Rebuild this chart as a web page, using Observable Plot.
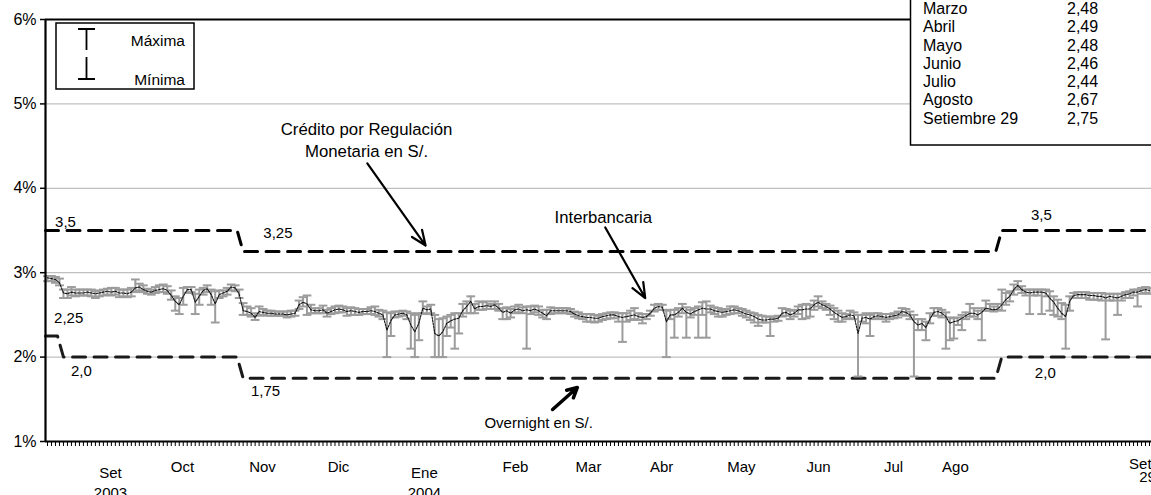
<!DOCTYPE html>
<html><head><meta charset="utf-8">
<script src="https://cdn.jsdelivr.net/npm/d3@7"></script>
<script src="https://cdn.jsdelivr.net/npm/@observablehq/plot@0.6"></script>
<style>body{margin:0;background:#fff;} svg{display:block;}</style>
</head><body><div id="chart"></div>
<script>
// Interbank rate, daily (business days, Sep 2003 - Sep 29 2004): mean, max, min (%)
const interMean = [
2.94,2.93,2.92,2.88,2.76,2.75,2.77,2.76,2.76,2.76,
2.77,2.76,2.75,2.76,2.77,2.78,2.77,2.78,2.76,2.76,
2.75,2.77,2.82,2.83,2.80,2.78,2.77,2.79,2.80,2.81,
2.79,2.73,2.66,2.62,2.72,2.80,2.80,2.65,2.72,2.79,
2.81,2.74,2.63,2.74,2.76,2.78,2.83,2.82,2.75,
2.55,2.54,2.52,2.47,2.54,2.53,2.52,2.52,2.51,2.51,
2.51,2.50,2.51,2.52,2.62,2.65,2.63,2.56,2.55,2.55,
2.56,2.52,2.54,2.56,2.57,2.56,2.54,2.55,2.54,2.53,
2.54,2.54,2.55,2.54,2.52,2.50,2.32,2.43,2.50,2.51,
2.52,2.50,2.38,2.30,2.40,2.58,2.56,
2.57,2.28,2.25,2.30,2.40,2.43,2.45,2.46,2.55,2.60,
2.66,2.57,2.60,2.60,2.61,2.60,2.62,2.58,2.53,2.55,
2.52,2.56,2.57,2.55,2.56,2.55,2.57,2.55,2.52,2.49,
2.55,2.55,2.55,2.55,2.55,2.54,2.51,2.49,2.48,2.47,
2.47,2.46,2.46,2.48,2.49,2.50,2.50,
2.48,2.47,2.48,2.49,2.50,2.48,2.47,2.48,2.52,2.58,
2.60,2.59,2.42,2.50,2.50,2.53,2.58,2.53,2.51,2.54,
2.56,2.58,2.57,2.57,2.55,2.54,2.53,2.54,2.55,2.56,
2.55,2.53,2.51,2.50,2.48,2.45,2.44,2.44,2.45,2.45,
2.46,2.52,2.53,2.50,2.52,2.56,
2.56,2.57,2.57,2.62,2.65,2.62,2.60,2.57,2.53,2.50,
2.47,2.48,2.50,2.49,2.28,2.46,2.47,2.45,2.48,2.49,
2.48,2.47,2.48,2.49,2.50,2.54,2.53,2.50,2.42,2.38,
2.40,2.35,2.45,2.53,2.54,2.52,2.48,2.40,2.42,2.43,
2.46,2.49,2.52,2.52,2.50,2.53,2.58,2.57,2.56,2.57,
2.62,2.68,2.72,2.80,2.85,2.80,2.77,2.76,2.77,2.77,
2.77,2.76,2.70,2.65,2.58,2.52,2.48,2.66,2.73,2.74,
2.74,2.74,2.73,2.73,2.72,2.72,2.70,2.72,2.71,2.70,
2.72,2.74,2.75,2.77,2.77,2.79,2.80,2.79
];
const interMax = [
2.96,2.96,2.95,2.93,2.80,2.80,2.83,2.80,2.80,2.80,
2.80,2.80,2.78,2.79,2.80,2.81,2.82,2.82,2.80,2.80,
2.80,2.82,2.92,2.87,2.85,2.81,2.80,2.83,2.85,2.86,
2.84,2.79,2.72,2.70,2.82,2.83,2.83,2.75,2.80,2.82,
2.85,2.80,2.78,2.79,2.79,2.82,2.86,2.85,2.80,
2.64,2.60,2.58,2.52,2.60,2.57,2.55,2.55,2.54,2.54,
2.54,2.54,2.55,2.55,2.67,2.71,2.73,2.62,2.58,2.58,
2.61,2.56,2.58,2.60,2.61,2.60,2.58,2.59,2.58,2.57,
2.57,2.57,2.59,2.60,2.56,2.55,2.53,2.52,2.54,2.54,
2.55,2.54,2.52,2.50,2.52,2.66,2.60,
2.62,2.50,2.45,2.46,2.48,2.50,2.52,2.52,2.63,2.66,
2.72,2.63,2.66,2.65,2.66,2.63,2.66,2.63,2.58,2.59,
2.57,2.60,2.62,2.59,2.60,2.60,2.61,2.60,2.56,2.56,
2.59,2.58,2.58,2.58,2.58,2.57,2.54,2.53,2.51,2.51,
2.51,2.50,2.49,2.51,2.52,2.53,2.53,
2.52,2.52,2.52,2.55,2.58,2.52,2.51,2.51,2.55,2.62,
2.63,2.62,2.55,2.56,2.56,2.58,2.63,2.59,2.56,2.58,
2.60,2.65,2.66,2.61,2.59,2.58,2.56,2.57,2.60,2.60,
2.58,2.57,2.55,2.53,2.52,2.50,2.49,2.48,2.48,2.48,
2.49,2.58,2.57,2.55,2.56,2.60,
2.62,2.63,2.62,2.67,2.72,2.66,2.63,2.61,2.58,2.55,
2.52,2.51,2.55,2.53,2.50,2.50,2.52,2.50,2.52,2.52,
2.51,2.51,2.51,2.52,2.54,2.58,2.57,2.54,2.50,2.45,
2.45,2.42,2.52,2.58,2.58,2.56,2.53,2.47,2.46,2.47,
2.50,2.53,2.63,2.58,2.55,2.58,2.67,2.63,2.60,2.63,
2.80,2.76,2.78,2.86,2.90,2.84,2.80,2.80,2.80,2.80,
2.80,2.80,2.78,2.72,2.68,2.64,2.62,2.72,2.76,2.77,
2.77,2.77,2.76,2.76,2.76,2.76,2.75,2.75,2.75,2.75,
2.75,2.77,2.78,2.80,2.80,2.82,2.83,2.82
];
const interMin = [
2.90,2.90,2.88,2.85,2.70,2.70,2.73,2.72,2.73,2.73,
2.73,2.72,2.70,2.72,2.73,2.74,2.73,2.74,2.71,2.72,
2.71,2.72,2.77,2.79,2.77,2.75,2.74,2.76,2.77,2.77,
2.75,2.68,2.55,2.51,2.62,2.76,2.77,2.51,2.62,2.74,
2.77,2.62,2.41,2.70,2.72,2.74,2.79,2.78,2.70,
2.50,2.50,2.48,2.44,2.49,2.50,2.49,2.49,2.49,2.49,
2.49,2.47,2.48,2.49,2.57,2.60,2.50,2.52,2.52,2.52,
2.52,2.48,2.51,2.52,2.53,2.53,2.49,2.50,2.50,2.50,
2.51,2.51,2.51,2.50,2.48,2.45,2.00,2.25,2.47,2.48,
2.49,2.45,2.10,2.00,2.20,2.52,2.51,
2.52,2.00,2.00,2.00,2.25,2.35,2.10,2.28,2.48,2.52,
2.52,2.52,2.56,2.56,2.57,2.57,2.57,2.55,2.45,2.45,
2.47,2.52,2.53,2.52,2.10,2.51,2.53,2.50,2.47,2.45,
2.51,2.52,2.52,2.52,2.52,2.51,2.48,2.46,2.45,2.42,
2.42,2.41,2.42,2.44,2.45,2.46,2.46,
2.42,2.18,2.42,2.44,2.45,2.44,2.40,2.45,2.49,2.54,
2.56,2.56,2.00,2.45,2.23,2.48,2.52,2.23,2.47,2.50,
2.23,2.50,2.23,2.53,2.51,2.48,2.48,2.50,2.51,2.52,
2.52,2.49,2.47,2.44,2.41,2.37,2.41,2.41,2.25,2.42,
2.43,2.48,2.49,2.45,2.48,2.51,
2.45,2.46,2.48,2.56,2.60,2.58,2.56,2.50,2.45,2.42,
2.42,2.45,2.46,2.45,1.77,2.42,2.40,2.25,2.45,2.46,
2.45,2.42,2.45,2.46,2.47,2.50,2.49,2.45,1.77,2.32,
2.32,2.20,2.40,2.49,2.49,2.47,2.10,2.20,2.22,2.38,
2.32,2.45,2.48,2.48,2.45,2.20,2.55,2.55,2.54,2.56,
2.55,2.62,2.66,2.74,2.80,2.76,2.73,2.51,2.73,2.73,
2.51,2.72,2.55,2.50,2.48,2.45,2.10,2.55,2.70,2.70,
2.70,2.70,2.68,2.68,2.68,2.67,2.21,2.67,2.67,2.50,
2.67,2.70,2.70,2.73,2.60,2.75,2.76,2.75
];

// Corridor: Crédito por Regulación Monetaria (upper) and Overnight (lower)
const creditStartDay = [0, 49, 239];
const creditRate = [3.5, 3.25, 3.5];
const overnightStartDay = [0, 4, 49, 239];
const overnightRate = [2.25, 2.0, 1.75, 2.0];

// Axis labels
const yTicks = [1, 2, 3, 4, 5, 6];
const monthDay = [33.8, 53.85, 72.88, 117.2, 135.5, 153.8, 173.8, 193.1, 211.9, 227.4];
const monthLabel = ["Oct", "Nov", "Dic", "Feb", "Mar", "Abr", "May", "Jun", "Jul", "Ago"];
const yearDay = [15.78, 94.4];
const yearLabel = ["Set\n2003", "Ene\n2004"];
const lastDay = [273.7];
const lastLabel = ["Set"];
const lastSub = ["29"];

// Table (monthly averages)
const tableMonth = ["Marzo", "Abril", "Mayo", "Junio", "Julio", "Agosto", "Setiembre 29"];
const tableValue = ["2,48", "2,49", "2,48", "2,46", "2,44", "2,67", "2,75"];

const N = interMean.length;
const days = d3.range(N).map(i => ({i, mean: interMean[i], max: interMax[i], min: interMin[i]}));

function stepPoints(starts, rates, end) {
  const pts = [];
  starts.forEach((s, k) => {
    const x0 = k === 0 ? -0.5 : s;
    const x1 = k === starts.length - 1 ? end : starts[k + 1] - 1.5;
    pts.push({x: x0, y: rates[k]}, {x: x1, y: rates[k]});
  });
  return pts;
}
const creditPts = stepPoints(creditStartDay, creditRate, N + 2);
const overnightPts = stepPoints(overnightStartDay, overnightRate, N + 2);

const rateLabels = [
  {x: 4.5, y: 3.5, t: "3,5", dy: -8},
  {x: 57.7, y: 3.25, t: "3,25", dy: -18},
  {x: 248.9, y: 3.5, t: "3,5", dy: -15},
  {x: 5.3, y: 2.25, t: "2,25", dy: -18},
  {x: 8.5, y: 2.0, t: "2,0", dy: 14},
  {x: 54.6, y: 1.75, t: "1,75", dy: 13},
  {x: 249.9, y: 2.0, t: "2,0", dy: 16}
];
const noteCredit = [{x: 79.9, y: 4.58, t: "Crédito por Regulación\nMonetaria en S/."}];
const noteInter = [{x: 139.2, y: 3.654, t: "Interbancaria"}];
const noteOvernight = [{x: 123.0, y: 1.213, t: "Overnight en S/."}];
const arrows = [
  {x1: 80.1, y1: 4.294, x2: 94.7, y2: 3.322},
  {x1: 139.7, y1: 3.536, x2: 149.7, y2: 2.70}
];
const arrowsThick = [
  {x1: 126.5, y1: 1.379, x2: 132.7, y2: 1.64}
];

const font = "'Liberation Sans', Arial, sans-serif";
const chart = Plot.plot({
  width: 1151, height: 495,
  marginLeft: 45, marginRight: 0, marginTop: 19, marginBottom: 54,
  style: {fontFamily: font, fontSize: "15px", color: "#000", background: "#fff"},
  x: {domain: [-0.5, N - 0.5], axis: null},
  y: {domain: [1, 6], axis: null},
  marks: [
    Plot.ruleY([2, 3, 4, 5], {stroke: "#c0c0c0", strokeWidth: 1.2}),
    Plot.axisY({ticks: yTicks, tickFormat: d => d + "%", tickSize: 5, tickPadding: 4, stroke: "#000", strokeWidth: 1.5, fontSize: 16, label: null}),
    Plot.axisX({ticks: d3.range(N), tickSize: 5, fill: "none", stroke: "#000", strokeWidth: 1, label: null}),
    Plot.text(monthLabel, {x: (d, k) => monthDay[k], text: d => d, frameAnchor: "bottom", dy: 30, fontSize: 15}),
    Plot.text(yearLabel, {x: (d, k) => yearDay[k], text: d => d, frameAnchor: "bottom", dy: 22, lineAnchor: "top", lineHeight: 1.35, fontSize: 15}),
    Plot.text(lastLabel, {x: (d, k) => lastDay[k], text: d => d, frameAnchor: "bottom", dy: 27, fontSize: 15}),
    Plot.text(lastSub, {x: (d, k) => lastDay[k] + 1.8, text: d => d, frameAnchor: "bottom", dy: 40, fontSize: 15}),
    // corridor
    Plot.line(creditPts, {x: "x", y: "y", stroke: "#000", strokeWidth: 3, strokeDasharray: "13,8.5"}),
    Plot.line(overnightPts, {x: "x", y: "y", stroke: "#1a1a1a", strokeWidth: 3, strokeDasharray: "13,8.5"}),
    // interbank max/min bars
    Plot.ruleX(days, {x: "i", y1: "min", y2: "max", stroke: "#9c9c9c", strokeWidth: 2}),
    Plot.link(days, {x1: d => d.i - 1.1, x2: d => d.i + 1.1, y1: "max", y2: "max", stroke: "#9c9c9c", strokeWidth: 2}),
    Plot.link(days, {x1: d => d.i - 1.1, x2: d => d.i + 1.1, y1: "min", y2: "min", stroke: "#9c9c9c", strokeWidth: 2}),
    Plot.line(days, {x: "i", y: "mean", stroke: "#111", strokeWidth: 1.1, strokeDasharray: "2,1.2"}),
    // frame lines
    Plot.ruleY([6], {stroke: "#000", strokeWidth: 1.8}),
    Plot.ruleY([1], {stroke: "#000", strokeWidth: 2}),
    Plot.ruleX([-0.5], {stroke: "#000", strokeWidth: 2.2}),
    // annotations
    ...rateLabels.map(r => Plot.text([r], {x: "x", y: "y", text: "t", dy: r.dy, fontSize: 15})),
    Plot.text(noteCredit, {x: "x", y: "y", text: "t", fontSize: 16.8, lineHeight: 1.31}),
    Plot.text(noteInter, {x: "x", y: "y", text: "t", fontSize: 16.7}),
    Plot.text(noteOvernight, {x: "x", y: "y", text: "t", fontSize: 15}),
    Plot.arrow(arrows, {x1: "x1", y1: "y1", x2: "x2", y2: "y2", stroke: "#000", strokeWidth: 2.2, headLength: 11, headAngle: 45}),
    Plot.arrow(arrowsThick, {x1: "x1", y1: "y1", x2: "x2", y2: "y2", stroke: "#000", strokeWidth: 3.5, headLength: 10, headAngle: 55})
  ]
});
document.getElementById("chart").appendChild(chart);

const svg = d3.select(chart);

// Legend
const lg = svg.append("g").attr("font-family", font).attr("font-size", 15.5);
lg.append("rect").attr("x", 56).attr("y", 23).attr("width", 138).attr("height", 66).attr("fill", "#fff").attr("stroke", "#000").attr("stroke-width", 1.5);
lg.append("path").attr("d", "M78,29H95M86.5,29V50M86.5,57V79M78,79H95").attr("stroke", "#000").attr("stroke-width", 1.8).attr("fill", "none");
lg.append("text").attr("x", 185).attr("y", 41).attr("dy", "0.35em").attr("text-anchor", "end").text("Máxima");
lg.append("text").attr("x", 185).attr("y", 80).attr("dy", "0.35em").attr("text-anchor", "end").text("Mínima");

// Table
const tb = svg.append("g").attr("font-family", font).attr("font-size", 16).attr("text-anchor", "start");
tb.append("rect").attr("x", 910.5).attr("y", -10).attr("width", 300).attr("height", 155).attr("fill", "#fff").attr("stroke", "#000").attr("stroke-width", 1.5);
tableMonth.forEach((m, k) => {
  const y = 8.3 + k * 18.3;
  tb.append("text").attr("x", 923).attr("y", y).attr("dy", "0.35em").text(m);
  tb.append("text").attr("x", 1067).attr("y", y).attr("dy", "0.35em").text(tableValue[k]);
});
</script>
</body></html>
